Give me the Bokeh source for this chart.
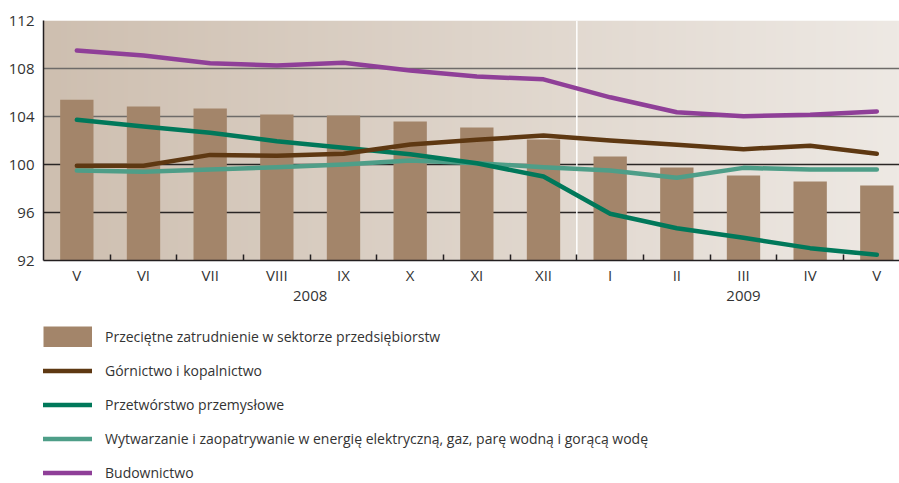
import numpy as np
from bokeh.plotting import figure
from bokeh.layouts import column
from bokeh.models import (Range1d, FixedTicker, LinearAxis, Grid, Span, Legend, LegendItem,
                          ColumnDataSource)
from bokeh.embed import file_html
from bokeh.resources import INLINE

months = ["V", "VI", "VII", "VIII", "IX", "X", "XI", "XII", "I", "II", "III", "IV", "V"]
years = ["2008", "2009"]
year_centers = [3.5, 10]
y_ticks = [92, 96, 100, 104, 108, 112]

przedsiebiorstwa = [105.4, 104.83, 104.67, 104.17, 104.08, 103.58, 103.08, 102.08, 100.67, 99.75, 99.08, 98.58, 98.25]
gornictwo = [99.89, 99.89, 100.8, 100.72, 100.89, 101.67, 102.06, 102.42, 102.0, 101.64, 101.28, 101.56, 100.89]
przetworstwo = [103.72, 103.17, 102.64, 101.94, 101.4, 100.85, 100.1, 99.0, 95.89, 94.69, 93.89, 93.03, 92.47]
wytwarzanie = [99.5, 99.39, 99.58, 99.78, 100.0, 100.33, 100.1, 99.78, 99.5, 98.89, 99.72, 99.58, 99.58]
budownictwo = [109.5, 109.08, 108.44, 108.25, 108.47, 107.83, 107.33, 107.1, 105.6, 104.36, 104.03, 104.14, 104.42]

labels = [
    "Przeciętne zatrudnienie w sektorze przedsiębiorstw",
    "Górnictwo i kopalnictwo",
    "Przetwórstwo przemysłowe",
    "Wytwarzanie i zaopatrywanie w energię elektryczną, gaz, parę wodną i gorącą wodę",
    "Budownictwo",
]

FONT = "Open Sans"
TXT = "#333333"
C_BAR = "#a3856a"
C_G = "#5e3812"
C_P = "#00785a"
C_W = "#4e9e88"
C_B = "#8f3f98"
LW = 4.5

x = list(range(len(months)))
src = ColumnDataSource(dict(x=x, bar=przedsiebiorstwa, g=gornictwo, p=przetworstwo,
                            w=wytwarzanie, b=budownictwo))

x0, x1 = -0.5, 12.34
y0, y1 = 92, 112

p = figure(width=899, height=310, output_backend="svg", toolbar_location=None,
           x_range=Range1d(x0, x1), y_range=Range1d(y0, y1),
           min_border_left=43, min_border_right=0, min_border_top=20, min_border_bottom=50)
p.outline_line_color = None
p.background_fill_color = "white"
p.border_fill_color = "white"

# gradient background
N = 256
t = np.linspace(0, 1, N)
c0 = np.array([206, 191, 176])
c1 = np.array([238, 233, 228])
cols = (c0[None, :] * (1 - t[:, None]) + c1[None, :] * t[:, None]).astype(np.uint32)
img = np.zeros((1, N), dtype=np.uint32)
img[0, :] = (255 << 24) | (cols[:, 2] << 16) | (cols[:, 1] << 8) | cols[:, 0]
p.image_rgba(image=[img], x=x0, y=y0, dw=x1 - x0, dh=y1 - y0, level="image")

# grids
p.xgrid.visible = False
p.ygrid.ticker = FixedTicker(ticks=[104, 108, 112])
p.ygrid.grid_line_color = "#6e6b69"
p.ygrid.grid_line_width = 1.5
g2 = Grid(dimension=1, ticker=FixedTicker(ticks=[96, 100]), grid_line_color="#2a2625",
          grid_line_width=1.5)
p.add_layout(g2)

sep = Span(location=7.5, dimension="height", line_color="white", line_width=1.5, level="underlay")
p.add_layout(sep)

p.vbar(x="x", top="bar", bottom=y0, width=0.5, source=src, fill_color=C_BAR, line_color=None)
p.line("x", "w", source=src, line_color=C_W, line_width=LW, line_cap="round", line_join="round")
p.line("x", "p", source=src, line_color=C_P, line_width=LW, line_cap="round", line_join="round")
p.line("x", "g", source=src, line_color=C_G, line_width=LW, line_cap="round", line_join="round")
p.line("x", "b", source=src, line_color=C_B, line_width=LW, line_cap="round", line_join="round")

# y axis
ya = p.yaxis[0]
ya.ticker = FixedTicker(ticks=y_ticks)
ya.major_tick_out = 0
ya.major_tick_in = 0
ya.minor_tick_line_color = None
ya.axis_line_color = "#231f20"
ya.axis_line_width = 1.5
ya.major_label_standoff = 9
ya.major_label_text_font = FONT
ya.major_label_text_font_size = "15px"
ya.major_label_text_color = TXT

# x axis
xa = p.xaxis[0]
xa.ticker = FixedTicker(ticks=x, minor_ticks=[i + 0.5 for i in range(len(months) - 1)])
xa.major_label_overrides = {i: m for i, m in enumerate(months)}
xa.major_tick_in = 0
xa.major_tick_out = 0
xa.minor_tick_in = 6
xa.minor_tick_out = 0
xa.minor_tick_line_color = "#231f20"
xa.minor_tick_line_width = 1.5
xa.axis_line_color = "#231f20"
xa.axis_line_width = 1.5
xa.major_label_standoff = 4
xa.major_label_text_font = FONT
xa.major_label_text_font_size = "15px"
xa.major_label_text_color = TXT

ya2 = LinearAxis(ticker=FixedTicker(ticks=year_centers),
                 major_label_overrides={c: yv for c, yv in zip(year_centers, years)},
                 axis_line_color=None, major_tick_line_color=None, minor_tick_line_color=None,
                 major_label_standoff=-3, major_label_text_font=FONT,
                 major_label_text_font_size="15px", major_label_text_color=TXT)
p.add_layout(ya2, "below")

# legend figure
q = figure(width=899, height=173, output_backend="svg", toolbar_location=None,
           x_range=Range1d(0, 1), y_range=Range1d(0, 1),
           min_border_left=0, min_border_right=0, min_border_top=0, min_border_bottom=0)
q.axis.visible = False
q.grid.visible = False
q.outline_line_color = None
q.background_fill_color = "white"
q.border_fill_color = "white"
offscreen = ColumnDataSource(dict(x=[-10, -9], y=[-10, -9]))
# bar swatch drawn as a thick butt-capped line so it fills the whole glyph box
lb = q.line("x", "y", source=offscreen, line_color=C_BAR, line_width=21, line_cap="butt")
lg = q.line("x", "y", source=offscreen, line_color=C_G, line_width=LW, line_cap="round")
lp = q.line("x", "y", source=offscreen, line_color=C_P, line_width=LW, line_cap="round")
lw_ = q.line("x", "y", source=offscreen, line_color=C_W, line_width=LW, line_cap="round")
lbud = q.line("x", "y", source=offscreen, line_color=C_B, line_width=LW, line_cap="round")

items = [LegendItem(label=labels[0], renderers=[lb]),
         LegendItem(label=labels[1], renderers=[lg]),
         LegendItem(label=labels[2], renderers=[lp]),
         LegendItem(label=labels[3], renderers=[lw_]),
         LegendItem(label=labels[4], renderers=[lbud])]
leg = Legend(items=items, location=(0, 0), orientation="vertical",
             glyph_width=49, glyph_height=21, label_height=21, label_standoff=13,
             spacing=13, padding=0, margin=0, border_line_color=None,
             background_fill_alpha=0, label_text_font=FONT, label_text_font_size="14px",
             label_text_color=TXT)
q.add_layout(leg)

layout = column(p, q, spacing=0)
open("out.html", "w").write(file_html(layout, INLINE))
